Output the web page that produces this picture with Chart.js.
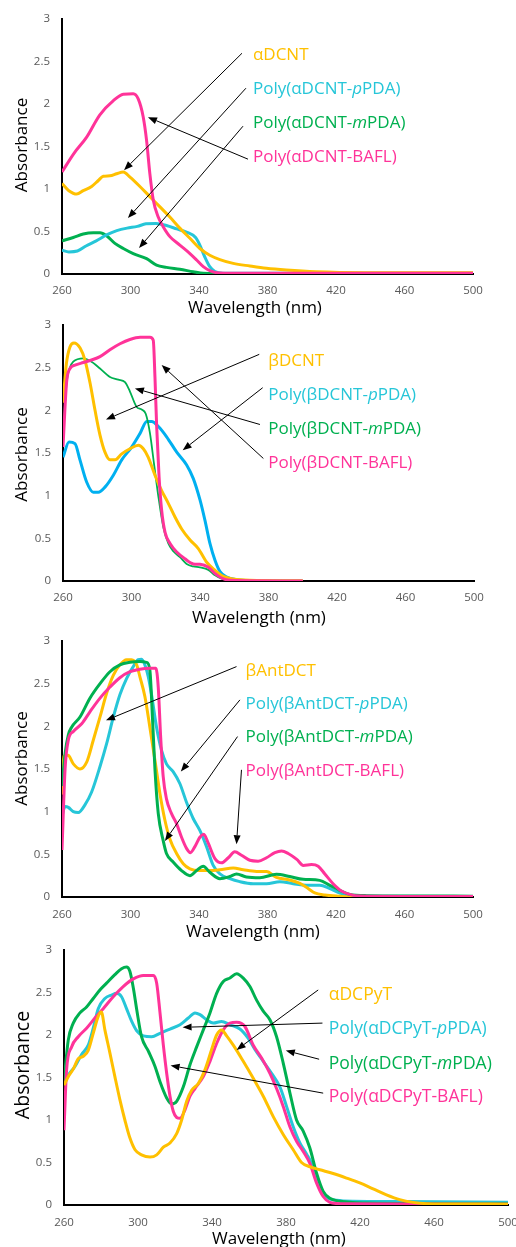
<!DOCTYPE html>
<html>
<head>
<meta charset="utf-8">
<script src="https://cdn.jsdelivr.net/npm/chart.js@4.4.1/dist/chart.umd.min.js"></script>
<style>
	body { margin: 0; background: #fff; width: 516px; height: 1247px; overflow: hidden; position: relative; }
	canvas { position: absolute; left: 0; }
</style>
</head>
<body>
<canvas id="chart1" width="516" height="330" style="top:0px"></canvas>
<canvas id="chart2" width="516" height="330" style="top:310px"></canvas>
<canvas id="chart3" width="516" height="330" style="top:620px"></canvas>
<canvas id="chart4" width="516" height="317" style="top:930px"></canvas>
<script>
// ---- tick labels ----
const wlTicks  = [260, 300, 340, 380, 420, 460, 500];
const absTicks = [0, 0.5, 1, 1.5, 2, 2.5, 3];

// ---- αDCNT series ----
const aDCNT_wl  = [260, 264, 268.6, 272.4, 277.3, 281.2, 284.1, 288, 291.9, 295.8, 299.7, 305.5, 311.3, 317.2, 323, 328.8, 334.7, 340.5, 346.3, 352.2, 360, 369.7, 379.4, 391, 408.6, 437.7, 470, 500];
const aDCNT_abs = [1.065, 0.98, 0.94, 0.98, 1.03, 1.10, 1.15, 1.155, 1.18, 1.20, 1.14, 1.03, 0.91, 0.79, 0.67, 0.54, 0.42, 0.30, 0.22, 0.17, 0.125, 0.094, 0.067, 0.047, 0.027, 0.016, 0.015, 0.015];
const aDCNT_pPDA_wl  = [260, 264, 269, 274, 280, 286, 292, 298, 304, 309, 315, 321, 327, 333, 338, 340.5, 343.4, 346.3, 349.3, 354, 380, 500];
const aDCNT_pPDA_abs = [0.28, 0.26, 0.27, 0.33, 0.39, 0.46, 0.51, 0.54, 0.56, 0.59, 0.595, 0.57, 0.53, 0.49, 0.43, 0.34, 0.20, 0.086, 0.03, 0.01, 0.008, 0.008];
const aDCNT_mPDA_wl  = [260, 266.6, 272.4, 278.3, 282.2, 286, 290.9, 295.8, 301.6, 309.4, 315.2, 321, 328.8, 336.6, 342.5, 360, 500];
const aDCNT_mPDA_abs = [0.39, 0.43, 0.47, 0.485, 0.485, 0.45, 0.36, 0.30, 0.24, 0.18, 0.105, 0.078, 0.055, 0.027, 0.008, 0.003, 0.003];
const aDCNT_BAFL_wl  = [260, 267, 274.4, 282, 290, 295.8, 301.6, 304.5, 307.4, 309.4, 311.3, 313.3, 316.2, 319, 323, 328.8, 334.7, 338.6, 342.5, 346.3, 352, 370, 500];
const aDCNT_BAFL_abs = [1.20, 1.42, 1.61, 1.87, 2.04, 2.115, 2.12, 2.06, 1.85, 1.57, 1.18, 0.87, 0.67, 0.56, 0.44, 0.34, 0.24, 0.165, 0.086, 0.04, 0.012, 0.008, 0.008];

// ---- βDCNT series ----
const bDCNT_wl  = [260, 262, 264, 266.4, 270, 272.8, 275.8, 278.7, 281.6, 284.5, 287.4, 290.4, 294.3, 299.1, 304, 306.9, 309.8, 313.7, 317.6, 321.5, 325.4, 329.3, 334.2, 339, 343.9, 348.8, 353.6, 359.5, 369, 400];
const bDCNT_abs = [2.09, 2.55, 2.74, 2.79, 2.73, 2.59, 2.32, 2.0, 1.71, 1.51, 1.42, 1.42, 1.49, 1.55, 1.59, 1.55, 1.45, 1.24, 1.06, 0.91, 0.75, 0.61, 0.48, 0.38, 0.22, 0.125, 0.055, 0.023, 0.008, 0.002];
const bDCNT_pPDA_wl  = [260, 263.5, 267, 269.9, 273.8, 277.7, 280.6, 284.5, 289.4, 294.3, 300.1, 305, 308.9, 311.8, 315.7, 320.5, 326.4, 332.2, 336.1, 340, 342.9, 345.8, 348.8, 351.7, 355.6, 361.4, 371, 400];
const bDCNT_pPDA_abs = [1.45, 1.63, 1.61, 1.42, 1.16, 1.04, 1.04, 1.10, 1.24, 1.42, 1.57, 1.73, 1.87, 1.87, 1.81, 1.69, 1.51, 1.36, 1.20, 0.95, 0.71, 0.44, 0.24, 0.11, 0.047, 0.016, 0.005, 0.0];
const bDCNT_mPDA_wl  = [260, 262, 264, 266, 271.9, 275.8, 281.6, 287.4, 292.3, 296.2, 299.1, 303, 305.9, 308.3, 310.8, 313.1, 315.7, 318.6, 321.5, 324.4, 328.3, 332.2, 336.1, 340, 344.9, 348.8, 352.6, 360, 400];
const bDCNT_mPDA_abs = [1.7, 2.3, 2.5, 2.57, 2.61, 2.58, 2.49, 2.39, 2.36, 2.33, 2.22, 2.04, 2.01, 1.96, 1.73, 1.38, 0.99, 0.63, 0.44, 0.35, 0.28, 0.20, 0.17, 0.16, 0.13, 0.066, 0.027, 0.008, 0.0];
const bDCNT_BAFL_wl  = [260, 262.1, 264.1, 267, 271.9, 276.7, 281.6, 287.4, 293.3, 299.1, 305, 310.8, 312.7, 313.7, 314.7, 316.1, 317.6, 319.6, 322.5, 326.4, 331.2, 336.1, 340, 344.9, 348.8, 352.6, 357.5, 400];
const bDCNT_BAFL_abs = [1.57, 2.33, 2.49, 2.53, 2.56, 2.59, 2.63, 2.71, 2.78, 2.83, 2.855, 2.855, 2.82, 2.39, 1.81, 1.22, 0.83, 0.57, 0.44, 0.34, 0.26, 0.20, 0.195, 0.16, 0.086, 0.035, 0.008, 0.0];

// ---- βAntDCT series ----
const bAntDCT_wl  = [260, 261, 263.5, 266.6, 270.5, 274.4, 278.3, 282.2, 286.1, 290, 293.8, 297.7, 300.6, 303.6, 305.5, 308.4, 311.3, 314.3, 317.2, 320.1, 323, 326.9, 330.8, 334.7, 340.5, 346.3, 352.2, 360, 365.8, 373.6, 379.4, 385.2, 393, 398.9, 403.7, 407.6, 413.5, 422.2, 440, 500];
const bAntDCT_abs = [1.2, 1.65, 1.66, 1.56, 1.50, 1.58, 1.84, 2.11, 2.39, 2.60, 2.72, 2.78, 2.78, 2.72, 2.58, 2.35, 1.99, 1.60, 1.21, 0.90, 0.68, 0.51, 0.39, 0.33, 0.31, 0.31, 0.32, 0.34, 0.32, 0.30, 0.30, 0.23, 0.20, 0.16, 0.10, 0.047, 0.023, 0.008, -0.012, -0.015];
const bAntDCT_pPDA_wl  = [260, 261.8, 263.7, 266.6, 269.5, 273.4, 277.3, 282.2, 286.1, 290, 293.8, 297.7, 301.6, 304.5, 306.5, 308.4, 310.4, 312.3, 315.2, 318.1, 321, 324.9, 328.8, 332.7, 336.6, 340.5, 344.4, 348.3, 352.2, 358, 363.8, 371.6, 379.4, 387.2, 395, 402.7, 410.5, 416.4, 422.2, 428, 437.8, 500];
const bAntDCT_pPDA_abs = [0.95, 1.06, 1.05, 1.0, 0.99, 1.08, 1.23, 1.53, 1.80, 2.11, 2.37, 2.56, 2.70, 2.78, 2.785, 2.72, 2.58, 2.37, 1.99, 1.72, 1.56, 1.47, 1.33, 1.11, 0.92, 0.78, 0.59, 0.37, 0.27, 0.215, 0.18, 0.156, 0.156, 0.18, 0.156, 0.137, 0.137, 0.098, 0.047, 0.02, 0.008, 0.005];
const bAntDCT_mPDA_wl  = [260, 261.8, 263.7, 265.6, 270.5, 276.3, 282.2, 288, 293.8, 299.7, 305.5, 309.4, 311.3, 312.9, 314.3, 316.2, 319.1, 321, 324.9, 329.8, 334.7, 338.6, 342.5, 346.3, 352.2, 358, 361.9, 367.7, 375.5, 385.2, 393, 400.8, 410.5, 416.4, 422.2, 428, 437.8, 500];
const bAntDCT_mPDA_abs = [1.3, 1.68, 1.90, 1.99, 2.11, 2.33, 2.50, 2.64, 2.72, 2.75, 2.76, 2.75, 2.66, 2.07, 1.49, 0.98, 0.66, 0.51, 0.41, 0.31, 0.25, 0.31, 0.36, 0.29, 0.215, 0.24, 0.27, 0.235, 0.227, 0.266, 0.24, 0.207, 0.195, 0.137, 0.078, 0.031, 0.016, 0.01];
const bAntDCT_BAFL_wl  = [260, 261.8, 263.7, 266.6, 271.5, 276.3, 282.2, 288, 293.8, 299.7, 305.5, 311.3, 314.8, 316.2, 317.6, 319.1, 321, 323.9, 326.9, 329.8, 332.7, 335, 337.6, 340.5, 342.8, 345.4, 349.3, 353.2, 357.1, 360.9, 364.8, 369.7, 374.5, 379.4, 384.3, 388.2, 392.1, 397.1, 400.9, 405.7, 409.6, 413.5, 418.3, 423.2, 428, 433.9, 500];
const bAntDCT_BAFL_abs = [0.55, 1.50, 1.84, 1.94, 2.03, 2.17, 2.33, 2.46, 2.57, 2.64, 2.67, 2.68, 2.68, 2.46, 1.88, 1.41, 1.15, 0.98, 0.86, 0.70, 0.57, 0.52, 0.59, 0.70, 0.735, 0.63, 0.45, 0.40, 0.46, 0.53, 0.49, 0.43, 0.42, 0.46, 0.52, 0.54, 0.51, 0.44, 0.37, 0.38, 0.36, 0.27, 0.156, 0.07, 0.031, 0.012, 0.005];

// ---- αDCPyT series ----
const aDCPyT_wl  = [260, 262.3, 265, 267.7, 270.4, 273.1, 275.8, 278.5, 280.2, 282.1, 284.8, 287.5, 290.2, 292.9, 295.6, 298.4, 301.9, 306.5, 310.1, 313.7, 317.3, 320.9, 323.6, 326.3, 329, 332.6, 336.2, 339.8, 342.5, 345.2, 347.9, 351.5, 356.9, 362.3, 367.7, 373.1, 378.5, 383.9, 388.4, 392.9, 398.3, 405.5, 412.7, 419.9, 427.1, 434.3, 441.5, 448.7, 455.9, 468.5, 500];
const aDCPyT_abs = [1.41, 1.51, 1.60, 1.72, 1.75, 1.82, 2.02, 2.22, 2.27, 2.06, 1.79, 1.51, 1.24, 1.0, 0.79, 0.65, 0.59, 0.564, 0.59, 0.68, 0.73, 0.84, 1.0, 1.22, 1.35, 1.43, 1.59, 1.83, 2.0, 2.06, 1.99, 1.88, 1.69, 1.49, 1.28, 1.04, 0.83, 0.65, 0.50, 0.45, 0.415, 0.37, 0.317, 0.26, 0.19, 0.12, 0.063, 0.031, 0.016, 0.012, 0.01];
const aDCPyT_pPDA_wl  = [260, 262.3, 265.9, 269.5, 273.1, 275.8, 278.5, 282.1, 285.7, 288.4, 291.1, 293.8, 296.6, 299.3, 302.9, 307.4, 311.9, 317.3, 322.7, 327.2, 330.8, 333.5, 337.1, 340.7, 345.2, 349.7, 355.1, 359.6, 363.2, 367.7, 372.2, 376.7, 380.3, 383.9, 387.5, 391.1, 393.8, 396.5, 399.2, 402.8, 407.3, 416.3, 441.5, 500];
const aDCPyT_pPDA_abs = [1.43, 1.53, 1.63, 1.77, 1.88, 2.08, 2.31, 2.43, 2.47, 2.49, 2.45, 2.31, 2.16, 2.05, 1.99, 1.98, 2.02, 2.07, 2.12, 2.20, 2.26, 2.24, 2.18, 2.14, 2.16, 2.12, 2.07, 1.96, 1.83, 1.69, 1.55, 1.39, 1.16, 0.92, 0.73, 0.60, 0.49, 0.32, 0.16, 0.08, 0.055, 0.043, 0.04, 0.031];
const aDCPyT_mPDA_wl  = [260, 262.3, 265, 268.6, 272.2, 275.8, 279.4, 283, 287.5, 291.1, 293.8, 295.6, 297.5, 299.3, 301.9, 305.6, 309.2, 311.9, 315.5, 318.2, 320.9, 324.5, 328.1, 331.7, 335.3, 338.9, 342.5, 346.1, 349.7, 353.3, 356.9, 360.5, 364.1, 367.7, 371.3, 374.9, 378.5, 382.1, 385.7, 389.3, 392.9, 396.5, 400.1, 403.7, 409.1, 423.5, 500];
const aDCPyT_mPDA_abs = [1.45, 1.94, 2.14, 2.26, 2.33, 2.43, 2.53, 2.61, 2.71, 2.78, 2.80, 2.75, 2.55, 2.30, 1.98, 1.81, 1.63, 1.45, 1.26, 1.19, 1.22, 1.39, 1.65, 1.86, 2.06, 2.26, 2.49, 2.63, 2.67, 2.72, 2.67, 2.57, 2.41, 2.28, 2.18, 1.98, 1.67, 1.32, 1.0, 0.87, 0.67, 0.376, 0.16, 0.08, 0.043, 0.024, 0.015];
const aDCPyT_BAFL_wl  = [260, 261.4, 264.1, 267.7, 272.2, 276.7, 281.2, 286.6, 292, 297.5, 302.9, 308.3, 310.1, 311.9, 313.7, 315.5, 317.3, 319.1, 320.9, 322.7, 325.4, 328.1, 330.8, 335.3, 338.9, 342.5, 346.1, 349.7, 353.3, 357.8, 362.3, 366.8, 371.3, 374.9, 378.5, 382.1, 385.7, 389.3, 392.9, 396.5, 400.1, 403.7, 409.1, 500];
const aDCPyT_BAFL_abs = [0.88, 1.59, 1.86, 1.98, 2.08, 2.20, 2.31, 2.45, 2.57, 2.66, 2.70, 2.70, 2.61, 2.26, 1.88, 1.55, 1.28, 1.10, 1.03, 1.02, 1.12, 1.28, 1.37, 1.51, 1.69, 1.90, 2.06, 2.14, 2.15, 2.10, 1.88, 1.73, 1.55, 1.37, 1.16, 0.92, 0.75, 0.63, 0.49, 0.26, 0.10, 0.031, 0.016, 0.01];

const YELLOW = '#FFC000', CYAN = '#26C6D8', BLUE = '#00B0F0', GREEN = '#00B050', PINK = '#FF3399';
const FONT = "'Open Sans', sans-serif";

function series(label, wl, abs, color, width){
	return {
		label: label,
		data: wl.map((w, i) => ({x: w, y: abs[i]})),
		borderColor: color,
		borderWidth: width || 3,
		pointRadius: 0,
		fill: false,
		cubicInterpolationMode: 'monotone'
	};
}

// labels, arrows and axis titles on top of the plot
const calloutPlugin = {
	id: 'callouts',
	afterDatasetsDraw(chart, args, opts){
		const ctx = chart.ctx, xs = chart.scales.x, ys = chart.scales.y;
		ctx.save();
		ctx.strokeStyle = '#000';
		ctx.fillStyle = '#000';
		ctx.lineWidth = 1;
		opts.arrows.forEach(a => {
			const x0 = xs.getPixelForValue(a[0]), y0 = ys.getPixelForValue(a[1]);
			const x1 = xs.getPixelForValue(a[2]), y1 = ys.getPixelForValue(a[3]);
			const ang = Math.atan2(y1 - y0, x1 - x0), L = 9, W = 3.5;
			const bx = x1 - L * Math.cos(ang), by = y1 - L * Math.sin(ang);
			ctx.beginPath(); ctx.moveTo(x0, y0); ctx.lineTo(bx, by); ctx.stroke();
			ctx.beginPath();
			ctx.moveTo(x1, y1);
			ctx.lineTo(bx + W * Math.sin(ang), by - W * Math.cos(ang));
			ctx.lineTo(bx - W * Math.sin(ang), by + W * Math.cos(ang));
			ctx.closePath(); ctx.fill();
		});

		ctx.textBaseline = 'middle';
		ctx.textAlign = 'left';
		opts.labels.forEach(l => {
			let px = xs.getPixelForValue(opts.labelX);
			const py = ys.getPixelForValue(l.y);
			ctx.fillStyle = l.color;
			// text between underscores is set in italics
			l.text.split('_').forEach((part, i) => {
				ctx.font = (i % 2 ? 'italic ' : '') + opts.labelSize + 'px ' + FONT;
				ctx.fillText(part, px, py);
				px += ctx.measureText(part).width;
			});
		});

		const t = opts.titles;
		ctx.fillStyle = '#000';
		ctx.textAlign = 'center';
		ctx.font = t.xSize + 'px ' + FONT;
		ctx.fillText('Wavelength (nm)', t.xX, t.xY);
		ctx.translate(t.yX, t.yY);
		ctx.rotate(-Math.PI / 2);
		ctx.font = t.ySize + 'px ' + FONT;
		ctx.fillText('Absorbance', 0, 0);
		ctx.restore();
	}
};

function makeChart(id, box, datasets, callouts){
	const cv = document.getElementById(id);
	const xh = 30;
	return new Chart(cv, {
		type: 'line',
		data: { datasets: datasets },
		plugins: [calloutPlugin],
		options: {
			responsive: false,
			animation: false,
			devicePixelRatio: 1,
			layout: { padding: { left: 0, top: box.top, right: cv.width - box.right, bottom: cv.height - box.bottom - xh } },
			plugins: { legend: { display: false }, tooltip: { enabled: false }, callouts: callouts },
			scales: {
				x: {
					type: 'linear', min: wlTicks[0], max: wlTicks[wlTicks.length - 1],
					afterBuildTicks: s => { s.ticks = wlTicks.map(v => ({value: v})); },
					afterFit: s => { s.height = xh; s.paddingLeft = 0; s.paddingRight = 0; },
					grid: { display: false, drawTicks: false },
					border: { display: true, color: '#000', width: 2 },
					ticks: { autoSkip: false, maxRotation: 0, padding: box.tickPad, color: '#595959', font: { family: FONT, size: 11.5 }, callback: v => String(v) }
				},
				y: {
					min: absTicks[0], max: absTicks[absTicks.length - 1],
					afterBuildTicks: s => { s.ticks = absTicks.map(v => ({value: v})); },
					afterFit: s => { s.width = box.left; s.paddingTop = 0; s.paddingBottom = 0; },
					grid: { display: false, drawTicks: false },
					border: { display: true, color: '#000', width: 2 },
					ticks: { padding: 12, color: '#595959', font: { family: FONT, size: 11.5 }, callback: v => String(v) }
				}
			}
		}
	});
}

makeChart('chart1', {left: 62, top: 19, right: 473, bottom: 274, tickPad: 10}, [
	series('Poly(αDCNT-BAFL)', aDCNT_BAFL_wl, aDCNT_BAFL_abs, PINK),
	series('αDCNT', aDCNT_wl, aDCNT_abs, YELLOW),
	series('Poly(αDCNT-pPDA)', aDCNT_pPDA_wl, aDCNT_pPDA_abs, CYAN),
	series('Poly(αDCNT-mPDA)', aDCNT_mPDA_wl, aDCNT_mPDA_abs, GREEN)
], {
	labelX: 371.5, labelSize: 17,
	labels: [
		{text: 'αDCNT', y: 2.573, color: YELLOW},
		{text: 'Poly(αDCNT-_p_PDA)', y: 2.174, color: CYAN},
		{text: 'Poly(αDCNT-_m_PDA)', y: 1.774, color: GREEN},
		{text: 'Poly(αDCNT-BAFL)', y: 1.375, color: PINK}
	],
	arrows: [[365.1, 2.597, 296.2, 1.222], [367.4, 2.186, 298.5, 0.658], [365.7, 1.739, 305, 0.306], [368.6, 1.351, 310.2, 1.845]],
	titles: {xX: 255, xY: 308, xSize: 17, yX: 22, yY: 145, ySize: 17}
});

makeChart('chart2', {left: 63, top: 15, right: 474, bottom: 271, tickPad: 10}, [
	series('Poly(βDCNT-BAFL)', bDCNT_BAFL_wl, bDCNT_BAFL_abs, PINK),
	series('βDCNT', bDCNT_wl, bDCNT_abs, YELLOW),
	series('Poly(βDCNT-mPDA)', bDCNT_mPDA_wl, bDCNT_mPDA_abs, GREEN, 1.8),
	series('Poly(βDCNT-pPDA)', bDCNT_pPDA_wl, bDCNT_pPDA_abs, BLUE)
], {
	labelX: 379.9, labelSize: 17,
	labels: [
		{text: 'βDCNT', y: 2.577, color: YELLOW},
		{text: 'Poly(βDCNT-_p_PDA)', y: 2.175, color: CYAN},
		{text: 'Poly(βDCNT-_m_PDA)', y: 1.784, color: GREEN},
		{text: 'Poly(βDCNT-BAFL)', y: 1.377, color: PINK}
	],
	arrows: [[374.6, 2.656, 285.1, 1.893], [376.6, 2.265, 329.9, 1.533], [375, 1.834, 302, 2.257], [377, 1.436, 317.6, 2.53]],
	titles: {xX: 259, xY: 308, xSize: 17, yX: 22, yY: 144.5, ySize: 17}
});

makeChart('chart3', {left: 62, top: 21, right: 473, bottom: 277, tickPad: 11}, [
	series('Poly(βAntDCT-BAFL)', bAntDCT_BAFL_wl, bAntDCT_BAFL_abs, PINK),
	series('Poly(βAntDCT-mPDA)', bAntDCT_mPDA_wl, bAntDCT_mPDA_abs, GREEN),
	series('βAntDCT', bAntDCT_wl, bAntDCT_abs, YELLOW),
	series('Poly(βAntDCT-pPDA)', bAntDCT_pPDA_wl, bAntDCT_pPDA_abs, CYAN)
], {
	labelX: 367.2, labelSize: 17,
	labels: [
		{text: 'βAntDCT', y: 2.648, color: YELLOW},
		{text: 'Poly(βAntDCT-_p_PDA)', y: 2.26, color: CYAN},
		{text: 'Poly(βAntDCT-_m_PDA)', y: 1.87, color: GREEN},
		{text: 'Poly(βAntDCT-BAFL)', y: 1.48, color: PINK}
	],
	arrows: [[361.9, 2.70, 285.7, 2.07], [363.9, 2.31, 329.4, 1.47], [362.5, 1.88, 320.1, 0.657], [364.8, 1.49, 361.9, 0.618]],
	titles: {xX: 253, xY: 312, xSize: 17, yX: 22, yY: 138.5, ySize: 17}
});

makeChart('chart4', {left: 64, top: 20, right: 508, bottom: 275, tickPad: 11}, [
	series('αDCPyT', aDCPyT_wl, aDCPyT_abs, YELLOW),
	series('Poly(αDCPyT-BAFL)', aDCPyT_BAFL_wl, aDCPyT_BAFL_abs, PINK),
	series('Poly(αDCPyT-mPDA)', aDCPyT_mPDA_wl, aDCPyT_mPDA_abs, GREEN),
	series('Poly(αDCPyT-pPDA)', aDCPyT_pPDA_wl, aDCPyT_pPDA_abs, CYAN)
], {
	labelX: 403.1, labelSize: 17.5,
	labels: [
		{text: 'αDCPyT', y: 2.47, color: YELLOW},
		{text: 'Poly(αDCPyT-_p_PDA)', y: 2.07, color: CYAN},
		{text: 'Poly(αDCPyT-_m_PDA)', y: 1.66, color: GREEN},
		{text: 'Poly(αDCPyT-BAFL)', y: 1.27, color: PINK}
	],
	arrows: [[397.4, 2.53, 353.3, 1.825], [399.7, 2.14, 324.1, 2.09], [397.9, 1.715, 379.9, 1.817], [400.1, 1.316, 317.6, 1.641]],
	titles: {xX: 279, xY: 309, xSize: 17, yX: 23.5, yY: 135, ySize: 19.5}
});
</script>
</body>
</html>
